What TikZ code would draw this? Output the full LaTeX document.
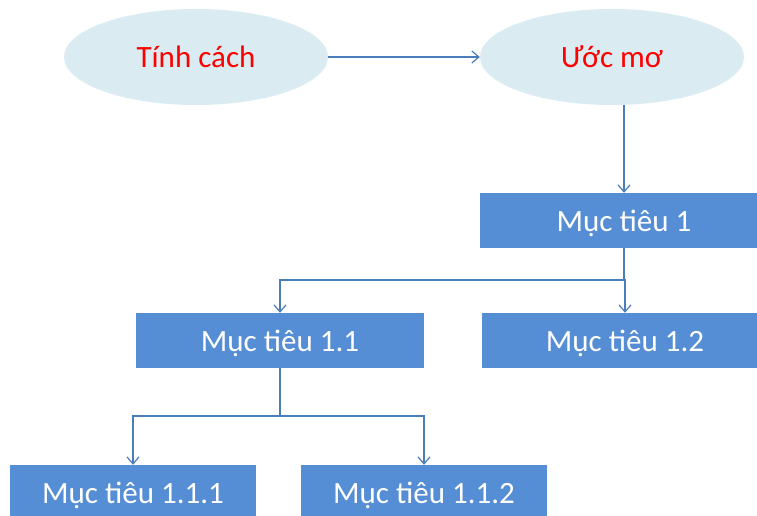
\documentclass[tikz,border=0pt]{standalone}
\usepackage{fontspec}
\setmainfont{Carlito}
\usepackage{tikz}
\usetikzlibrary{shapes.geometric,arrows.meta}

\definecolor{dream}{RGB}{218,236,242}
\definecolor{goal}{RGB}{85,142,213}
\definecolor{link}{RGB}{74,126,187}

\begin{document}
\begin{tikzpicture}
[x=1pt,y=-1pt,
 wish/.style={ellipse,fill=dream,text=red,inner sep=0pt,minimum width=264pt,minimum height=96pt},
 goalbox/.style={rectangle,fill=goal,text=white,inner sep=0pt,text height=21pt,text depth=0pt,minimum height=55pt},
 every node/.style={font=\fontsize{31}{36}\selectfont},
 conn/.style={draw=link,line width=1.2pt},
 arr/.style={conn,-{Straight Barb[length=7pt,width=12pt,line width=1.2pt]}}]
\useasboundingbox (0,0) rectangle (757,516);

\node[wish] (e1) at (196,57) {Tính cách};
\node[wish] (e2) at (612,57) {Ước mơ};

\node[goalbox,minimum width=288pt] (b1) at (624,220.5) {Mục tiêu 1};
\node[goalbox,minimum width=288pt] (b11) at (280,340.5) {Mục tiêu 1.1};
\node[goalbox,minimum width=286pt] (b12) at (625,340.5) {Mục tiêu 1.2};
\node[goalbox,minimum width=246pt] (b111) at (133,492.5) {Mục tiêu 1.1.1};
\node[goalbox,minimum width=246pt] (b112) at (424,492.5) {Mục tiêu 1.1.2};

\coordinate (j1) at (624,280);
\coordinate (j2) at (280,416);

\draw[arr] (e1) -- (e2);
\draw[arr] (b1.north |- e2.south) -- (b1.north);
\draw[conn] (b1) -- (j1);
\draw[conn] (b11) -- (j2);
\foreach \from/\to in {j1/b11,j1/b12,j2/b111,j2/b112}
\draw[arr] (\from) -| (\to);
\end{tikzpicture}
\end{document}
